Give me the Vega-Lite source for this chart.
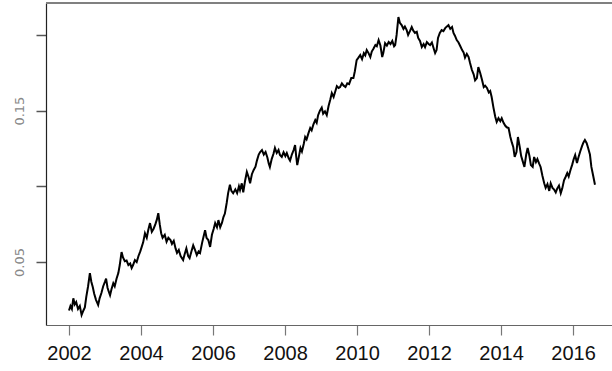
{
  "$schema": "https://vega.github.io/schema/vega-lite/v6.json",
  "width": 566,
  "height": 322,
  "autosize": {"type": "none"},
  "padding": {"left": 46, "top": 3, "right": 0, "bottom": 46},
  "background": "white",
  "config": {"view": {"stroke": null}},
  "data": {"values": [
    {"year":2002.00,"value":0.018},{"year":2002.04,"value":0.021},{"year":2002.08,"value":0.019},{"year":2002.12,"value":0.026},{"year":2002.16,"value":0.022},{"year":2002.20,"value":0.0236},{"year":2002.25,"value":0.019},{"year":2002.30,"value":0.021},{"year":2002.35,"value":0.015},{"year":2002.40,"value":0.018},{"year":2002.44,"value":0.020},{"year":2002.48,"value":0.027},{"year":2002.53,"value":0.034},{"year":2002.58,"value":0.0427},{"year":2002.62,"value":0.037},{"year":2002.66,"value":0.0335},{"year":2002.70,"value":0.029},{"year":2002.75,"value":0.025},{"year":2002.81,"value":0.0216},{"year":2002.85,"value":0.026},{"year":2002.90,"value":0.0295},{"year":2002.95,"value":0.034},{"year":2003.00,"value":0.037},{"year":2003.03,"value":0.039},{"year":2003.07,"value":0.033},{"year":2003.11,"value":0.030},{"year":2003.14,"value":0.028},{"year":2003.18,"value":0.032},{"year":2003.23,"value":0.036},{"year":2003.27,"value":0.034},{"year":2003.32,"value":0.039},{"year":2003.37,"value":0.0427},{"year":2003.41,"value":0.048},{"year":2003.46,"value":0.0566},{"year":2003.50,"value":0.053},{"year":2003.55,"value":0.0505},{"year":2003.60,"value":0.051},{"year":2003.65,"value":0.048},{"year":2003.70,"value":0.049},{"year":2003.74,"value":0.046},{"year":2003.78,"value":0.048},{"year":2003.83,"value":0.0513},{"year":2003.88,"value":0.050},{"year":2003.93,"value":0.054},{"year":2003.98,"value":0.057},{"year":2004.02,"value":0.060},{"year":2004.06,"value":0.063},{"year":2004.11,"value":0.069},{"year":2004.16,"value":0.066},{"year":2004.20,"value":0.071},{"year":2004.25,"value":0.0757},{"year":2004.30,"value":0.070},{"year":2004.35,"value":0.072},{"year":2004.40,"value":0.075},{"year":2004.44,"value":0.078},{"year":2004.48,"value":0.0823},{"year":2004.52,"value":0.075},{"year":2004.56,"value":0.069},{"year":2004.60,"value":0.066},{"year":2004.66,"value":0.068},{"year":2004.71,"value":0.0634},{"year":2004.76,"value":0.066},{"year":2004.82,"value":0.0645},{"year":2004.86,"value":0.062},{"year":2004.91,"value":0.064},{"year":2004.96,"value":0.059},{"year":2005.00,"value":0.056},{"year":2005.05,"value":0.058},{"year":2005.10,"value":0.054},{"year":2005.17,"value":0.0513},{"year":2005.21,"value":0.055},{"year":2005.26,"value":0.059},{"year":2005.31,"value":0.054},{"year":2005.35,"value":0.0526},{"year":2005.40,"value":0.057},{"year":2005.45,"value":0.061},{"year":2005.50,"value":0.058},{"year":2005.55,"value":0.0546},{"year":2005.60,"value":0.057},{"year":2005.64,"value":0.056},{"year":2005.70,"value":0.063},{"year":2005.74,"value":0.067},{"year":2005.78,"value":0.071},{"year":2005.82,"value":0.066},{"year":2005.87,"value":0.0645},{"year":2005.92,"value":0.060},{"year":2005.97,"value":0.068},{"year":2006.02,"value":0.072},{"year":2006.06,"value":0.0757},{"year":2006.11,"value":0.073},{"year":2006.15,"value":0.0777},{"year":2006.20,"value":0.073},{"year":2006.25,"value":0.076},{"year":2006.29,"value":0.0797},{"year":2006.33,"value":0.082},{"year":2006.38,"value":0.089},{"year":2006.42,"value":0.0955},{"year":2006.47,"value":0.101},{"year":2006.51,"value":0.097},{"year":2006.56,"value":0.0955},{"year":2006.62,"value":0.098},{"year":2006.67,"value":0.0955},{"year":2006.72,"value":0.100},{"year":2006.75,"value":0.0975},{"year":2006.80,"value":0.102},{"year":2006.84,"value":0.096},{"year":2006.89,"value":0.1035},{"year":2006.94,"value":0.1095},{"year":2006.99,"value":0.106},{"year":2007.03,"value":0.102},{"year":2007.08,"value":0.108},{"year":2007.13,"value":0.1108},{"year":2007.18,"value":0.113},{"year":2007.22,"value":0.117},{"year":2007.27,"value":0.121},{"year":2007.31,"value":0.1227},{"year":2007.36,"value":0.124},{"year":2007.41,"value":0.121},{"year":2007.46,"value":0.1227},{"year":2007.51,"value":0.119},{"year":2007.55,"value":0.115},{"year":2007.58,"value":0.1128},{"year":2007.63,"value":0.118},{"year":2007.68,"value":0.1215},{"year":2007.72,"value":0.1253},{"year":2007.77,"value":0.122},{"year":2007.82,"value":0.124},{"year":2007.86,"value":0.1207},{"year":2007.91,"value":0.1194},{"year":2007.96,"value":0.1225},{"year":2008.01,"value":0.120},{"year":2008.05,"value":0.122},{"year":2008.10,"value":0.1187},{"year":2008.14,"value":0.117},{"year":2008.19,"value":0.121},{"year":2008.24,"value":0.124},{"year":2008.28,"value":0.1273},{"year":2008.31,"value":0.120},{"year":2008.34,"value":0.114},{"year":2008.38,"value":0.119},{"year":2008.43,"value":0.1253},{"year":2008.47,"value":0.123},{"year":2008.52,"value":0.128},{"year":2008.56,"value":0.1326},{"year":2008.60,"value":0.131},{"year":2008.65,"value":0.135},{"year":2008.70,"value":0.1385},{"year":2008.74,"value":0.137},{"year":2008.79,"value":0.141},{"year":2008.84,"value":0.1438},{"year":2008.88,"value":0.142},{"year":2008.92,"value":0.147},{"year":2008.97,"value":0.150},{"year":2009.02,"value":0.152},{"year":2009.06,"value":0.148},{"year":2009.11,"value":0.1495},{"year":2009.16,"value":0.147},{"year":2009.21,"value":0.153},{"year":2009.26,"value":0.1575},{"year":2009.30,"value":0.1616},{"year":2009.35,"value":0.159},{"year":2009.40,"value":0.163},{"year":2009.44,"value":0.1662},{"year":2009.49,"value":0.165},{"year":2009.53,"value":0.1656},{"year":2009.58,"value":0.168},{"year":2009.63,"value":0.1665},{"year":2009.68,"value":0.1656},{"year":2009.73,"value":0.168},{"year":2009.78,"value":0.1675},{"year":2009.84,"value":0.1715},{"year":2009.90,"value":0.1715},{"year":2009.94,"value":0.176},{"year":2009.99,"value":0.1834},{"year":2010.04,"value":0.185},{"year":2010.09,"value":0.1867},{"year":2010.14,"value":0.184},{"year":2010.19,"value":0.188},{"year":2010.23,"value":0.1865},{"year":2010.27,"value":0.190},{"year":2010.32,"value":0.188},{"year":2010.37,"value":0.1854},{"year":2010.41,"value":0.189},{"year":2010.46,"value":0.191},{"year":2010.51,"value":0.1933},{"year":2010.55,"value":0.1925},{"year":2010.60,"value":0.1966},{"year":2010.65,"value":0.193},{"year":2010.70,"value":0.1854},{"year":2010.73,"value":0.188},{"year":2010.78,"value":0.1946},{"year":2010.83,"value":0.193},{"year":2010.88,"value":0.1953},{"year":2010.93,"value":0.194},{"year":2010.98,"value":0.196},{"year":2011.03,"value":0.1925},{"year":2011.06,"value":0.1933},{"year":2011.10,"value":0.200},{"year":2011.15,"value":0.2118},{"year":2011.19,"value":0.208},{"year":2011.24,"value":0.2065},{"year":2011.29,"value":0.204},{"year":2011.33,"value":0.2055},{"year":2011.38,"value":0.2032},{"year":2011.42,"value":0.200},{"year":2011.47,"value":0.2025},{"year":2011.52,"value":0.2052},{"year":2011.56,"value":0.203},{"year":2011.61,"value":0.2013},{"year":2011.66,"value":0.202},{"year":2011.70,"value":0.198},{"year":2011.75,"value":0.196},{"year":2011.80,"value":0.192},{"year":2011.85,"value":0.194},{"year":2011.89,"value":0.192},{"year":2011.94,"value":0.1953},{"year":2011.99,"value":0.194},{"year":2012.03,"value":0.1933},{"year":2012.08,"value":0.195},{"year":2012.13,"value":0.191},{"year":2012.17,"value":0.188},{"year":2012.21,"value":0.190},{"year":2012.25,"value":0.198},{"year":2012.30,"value":0.2013},{"year":2012.35,"value":0.2032},{"year":2012.40,"value":0.2025},{"year":2012.45,"value":0.2045},{"year":2012.49,"value":0.2055},{"year":2012.54,"value":0.2065},{"year":2012.59,"value":0.204},{"year":2012.64,"value":0.2052},{"year":2012.68,"value":0.2013},{"year":2012.72,"value":0.1995},{"year":2012.77,"value":0.1966},{"year":2012.82,"value":0.195},{"year":2012.87,"value":0.1925},{"year":2012.92,"value":0.190},{"year":2012.96,"value":0.1885},{"year":2013.00,"value":0.185},{"year":2013.05,"value":0.1875},{"year":2013.10,"value":0.1854},{"year":2013.14,"value":0.1814},{"year":2013.19,"value":0.177},{"year":2013.24,"value":0.174},{"year":2013.28,"value":0.170},{"year":2013.33,"value":0.1715},{"year":2013.37,"value":0.1788},{"year":2013.42,"value":0.175},{"year":2013.47,"value":0.1705},{"year":2013.52,"value":0.1656},{"year":2013.56,"value":0.1665},{"year":2013.61,"value":0.165},{"year":2013.66,"value":0.162},{"year":2013.70,"value":0.163},{"year":2013.74,"value":0.159},{"year":2013.79,"value":0.152},{"year":2013.84,"value":0.146},{"year":2013.88,"value":0.1425},{"year":2013.93,"value":0.145},{"year":2013.98,"value":0.143},{"year":2014.02,"value":0.145},{"year":2014.07,"value":0.142},{"year":2014.12,"value":0.140},{"year":2014.16,"value":0.139},{"year":2014.21,"value":0.1385},{"year":2014.26,"value":0.1326},{"year":2014.30,"value":0.129},{"year":2014.34,"value":0.126},{"year":2014.38,"value":0.1194},{"year":2014.43,"value":0.1226},{"year":2014.47,"value":0.1326},{"year":2014.52,"value":0.126},{"year":2014.56,"value":0.120},{"year":2014.61,"value":0.116},{"year":2014.65,"value":0.1128},{"year":2014.70,"value":0.121},{"year":2014.74,"value":0.1253},{"year":2014.79,"value":0.120},{"year":2014.83,"value":0.114},{"year":2014.88,"value":0.1128},{"year":2014.92,"value":0.1194},{"year":2014.97,"value":0.116},{"year":2015.01,"value":0.118},{"year":2015.06,"value":0.115},{"year":2015.10,"value":0.1128},{"year":2015.15,"value":0.107},{"year":2015.20,"value":0.102},{"year":2015.24,"value":0.099},{"year":2015.29,"value":0.1015},{"year":2015.34,"value":0.097},{"year":2015.38,"value":0.102},{"year":2015.43,"value":0.099},{"year":2015.47,"value":0.098},{"year":2015.52,"value":0.096},{"year":2015.56,"value":0.0985},{"year":2015.61,"value":0.1005},{"year":2015.66,"value":0.0955},{"year":2015.70,"value":0.0985},{"year":2015.75,"value":0.104},{"year":2015.79,"value":0.106},{"year":2015.84,"value":0.1088},{"year":2015.88,"value":0.1065},{"year":2015.93,"value":0.1108},{"year":2015.98,"value":0.1145},{"year":2016.02,"value":0.118},{"year":2016.06,"value":0.1207},{"year":2016.11,"value":0.1154},{"year":2016.15,"value":0.119},{"year":2016.20,"value":0.123},{"year":2016.25,"value":0.1265},{"year":2016.29,"value":0.129},{"year":2016.33,"value":0.1306},{"year":2016.38,"value":0.1285},{"year":2016.42,"value":0.1253},{"year":2016.47,"value":0.121},{"year":2016.51,"value":0.1128},{"year":2016.56,"value":0.107},{"year":2016.61,"value":0.101}
  ]},
  "layer": [
    {
      "mark": {"type": "line", "color": "black", "strokeWidth": 2, "strokeJoin": "miter"},
      "encoding": {
        "x": {
          "field": "year", "type": "quantitative",
          "scale": {"domain": [2001.361, 2017.083], "nice": false, "zero": false},
          "axis": {
            "values": [2002, 2004, 2006, 2008, 2010, 2012, 2014, 2016],
            "format": "d", "title": null, "grid": false,
            "domainColor": "#666666", "domainWidth": 1.2,
            "tickColor": "#777777", "tickSize": 10, "tickWidth": 1.2,
            "labelFont": "Liberation Sans", "labelFontSize": 20, "labelColor": "#111111",
            "labelPadding": 8, "labelFlush": false, "labelOverlap": false
          }
        },
        "y": {
          "field": "value", "type": "quantitative",
          "scale": {"domain": [0.0084, 0.2211], "nice": false, "zero": false},
          "axis": {
            "values": [0.05, 0.1, 0.15, 0.2],
            "format": ".2f",
            "labelExpr": "datum.label == '0.05' || datum.label == '0.15' ? datum.label : ''",
            "title": null, "grid": false,
            "domainColor": "#222222", "domainWidth": 1.2,
            "tickColor": "#555555", "tickSize": 10, "tickWidth": 1.5,
            "labelAngle": -90, "labelAlign": "center", "labelBaseline": "bottom",
            "labelFont": "DejaVu Sans", "labelFontSize": 13, "labelColor": "#888888",
            "labelPadding": 10, "labelOverlap": false
          }
        }
      }
    },
    {
      "mark": {"type": "rule", "color": "#808080", "strokeWidth": 2},
      "encoding": {"y": {"datum": 0.2211}}
    }
  ]
}
